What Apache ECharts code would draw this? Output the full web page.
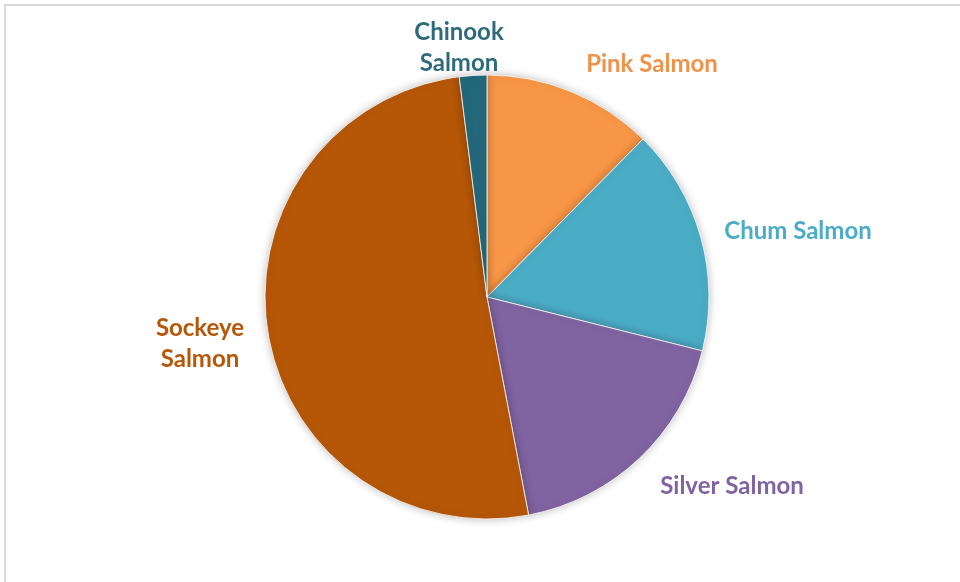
<!DOCTYPE html>
<html>
<head>
<meta charset="utf-8">
<script src="https://cdn.jsdelivr.net/npm/echarts@6/dist/echarts.min.js"></script>
<style>
  html, body { margin: 0; padding: 0; background: #fff; }
  #chart { width: 960px; height: 582px; }
</style>
</head>
<body>
<div id="chart"></div>
<script>
// Salmon species share (percent), clockwise from 12 o'clock
const categories = ['Pink Salmon', 'Chum Salmon', 'Silver Salmon', 'Sockeye\nSalmon', 'Chinook\nSalmon'];
const shares = [12.4, 16.5, 18.1, 51.0, 2.0];
const sliceColors = ['#F79646', '#4BACC6', '#8064A2', '#B65708', '#23687A'];
const labelColors = ['#F0924A', '#4BACC6', '#8064A2', '#B65708', '#2E6B7A'];
// Where each category name sits (centre of the text block)
const labelSpots = [[652, 64], [798, 231], [732, 486], [200, 344], [459, 48]];

const chart = echarts.init(document.getElementById('chart'), null, { renderer: 'canvas' });

const data = categories.map((name, i) => ({
  name,
  value: shares[i],
  itemStyle: { color: sliceColors[i] },
  label: { color: labelColors[i] }
}));

chart.setOption({
  animation: false,
  backgroundColor: '#ffffff',
  graphic: [{
    type: 'rect',
    shape: { x: 5, y: 5, width: 1000, height: 700 },
    style: { fill: 'none', stroke: '#d9d9d9', lineWidth: 2 },
    silent: true
  }],
  series: [{
    type: 'pie',
    center: [487, 297],
    radius: 222,
    startAngle: 90,
    clockwise: true,
    avoidLabelOverlap: false,
    itemStyle: {
      borderColor: '#ffffff',
      borderWidth: 0.8,
      shadowBlur: 8,
      shadowColor: 'rgba(0,0,0,0.25)'
    },
    label: {
      show: true,
      position: 'outside',
      fontFamily: 'Lato',
      fontWeight: 'bold',
      fontSize: 24,
      lineHeight: 31,
      formatter: '{b}'
    },
    labelLine: { show: false },
    labelLayout: function (params) {
      const spot = labelSpots[params.dataIndex];
      return { x: spot[0], y: spot[1], align: 'center', verticalAlign: 'middle' };
    },
    data
  }]
});
</script>
</body>
</html>
